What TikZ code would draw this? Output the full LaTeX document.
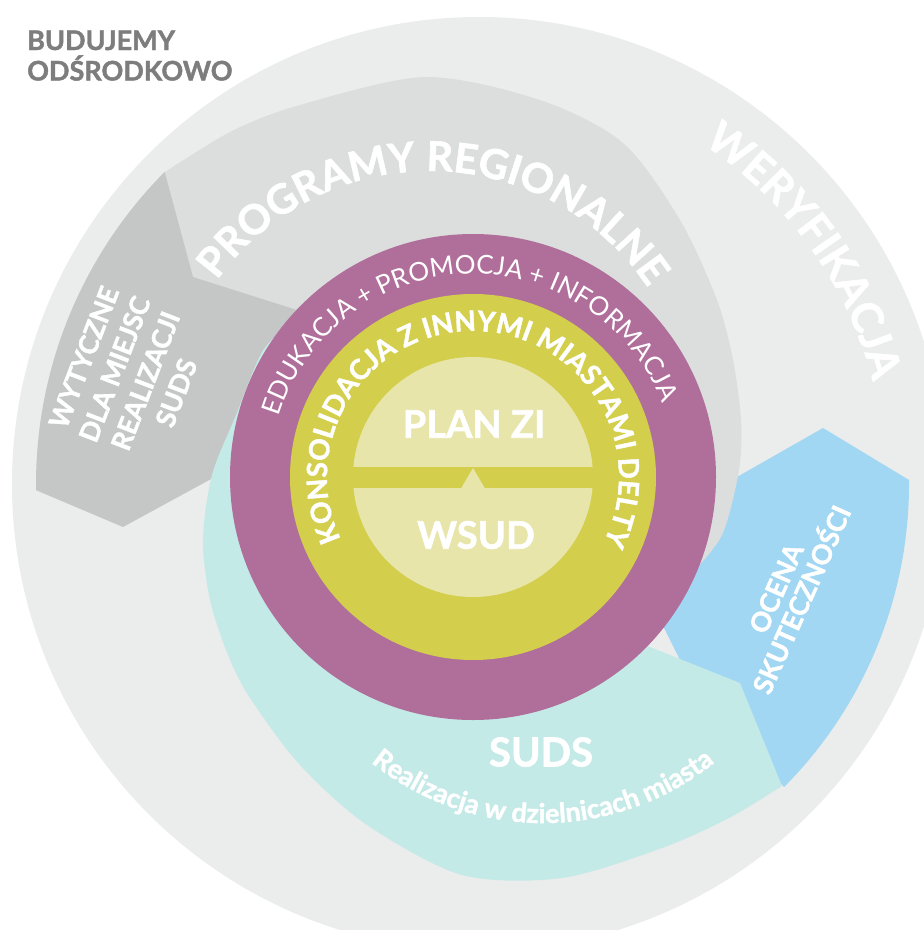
\documentclass[tikz,border=0pt]{standalone}
\usepackage{fontspec}
\setmainfont{Lato}[BoldFeatures={FakeBold=1.5}]
\usetikzlibrary{calc,decorations.text}
\definecolor{lgray}{HTML}{EBECEC}
\definecolor{dgray}{HTML}{DCDDDD}
\definecolor{mgray}{HTML}{C5C6C6}
\definecolor{cyanb}{HTML}{C4EAE7}
\definecolor{blueb}{HTML}{A1D7F3}
\definecolor{purp}{HTML}{B06E9B}
\definecolor{yell}{HTML}{D3CF4D}
\definecolor{pale}{HTML}{E8E5AA}
\definecolor{tgray}{HTML}{7D7D7D}
\tikzset{
  bigtxt/.style={font=\bfseries\fontsize{38}{38}\selectfont, text=white},
  sidetxt/.style={align=center, text=white},
}
\begin{document}
\begin{tikzpicture}[x=1pt,y=1pt]
\useasboundingbox (0,0) rectangle (924,-930);
\fill[white] (0,0) rectangle (924,-930);
\coordinate (O1) at (479,-484);
\coordinate (C) at (473,-477);
\coordinate (PRC) at (430,-433);
\coordinate (RC) at (543,-549);
\begin{scope}
\clip (0,0) rectangle (924,-930);
% outer light gray
\fill[lgray] (O1) circle[radius=467];
% blue
\fill[blueb] (823,-428) -- (909,-480) arc[start angle=0.53, end angle=-44.8, radius=430] -- (700,-700) -- (600,-500) -- (737,-477) -- cycle;
% darker gray (programy regionalne)
\fill[dgray] plot[smooth] coordinates {(690,-575) (722,-535) (739,-470) (741,-420) (733,-360) (717,-300) (680,-220) (623,-143) (540,-100) (425,-77) (300,-105) (232,-131) (165,-172)} -- (140,-230) -- (230,-330) -- (473,-477) -- cycle;
% medium gray (wytyczne)
\fill[mgray] ($(O1)+(135.2:443)$) arc[start angle=135.2, end angle=180.8, radius=443] -- (123,-527) -- (235,-466) -- (300,-420) -- (300,-311) -- (193,-277) -- cycle;
% cyan (suds)
\fill[cyanb] plot[smooth] coordinates {(288,-326) (262,-352) (236,-415) (212,-475) (203,-540) (210,-600) (228,-655) (250,-698) (300,-765) (367,-825) (462,-875) (562,-878) (662,-848) (729,-818) (782,-786)} -- (740,-683) -- (620,-635) -- (473,-477) -- cycle;
\end{scope}
% central circles
\fill[purp] (C) circle[radius=243];
\fill[yell] (C) circle[radius=183];
\fill[pale] (C) circle[radius=120];
\fill[yell] (340,-467) rectangle (606,-488);
\fill[pale] (461,-488.5) -- (473,-468) -- (485,-488.5) -- cycle;
% title
\node[anchor=base west, inner sep=0, font=\bfseries\fontsize{27}{30}\selectfont, text=tgray] (t1) at (27,-50) {BUDUJEMY};
\node[anchor=base west, inner sep=0, font=\bfseries\fontsize{27}{30}\selectfont, text=tgray] (t2) at (27,-80.5) {ODŚRODKOWO};
% curved texts
\path[decorate, decoration={text along path, text align=center, text={|\bfseries\fontsize{41}{41}\selectfont\color{white}|PROGRAMY REGIONALNE}}] ($(PRC)+(160:262)$) arc[start angle=160, end angle=18, radius=262];
\path[decorate, decoration={text along path, text align=center, text={|\bfseries\fontsize{43}{43}\selectfont\color{white}|WERYFIKACJA}}] ($(O1)+(85.6:407)$) arc[start angle=85.6, end angle=-14.4, radius=407];
\path[decorate, decoration={text along path, text align=center, text={|\fontsize{26}{26}\selectfont\color{white}|EDUKACJA + PROMOCJA + INFORMACJA}}] ($(C)+(172:203)$) arc[start angle=172, end angle=12, radius=203];
\path[decorate, decoration={text along path, text align=center, text={|\bfseries\fontsize{28}{28}\selectfont\color{white}|KONSOLIDACJA Z INNYMI MIASTAMI DELTY}}] ($(C)+(210:146)$) arc[start angle=210, end angle=-31.5, radius=146];
\path[decorate, decoration={text along path, text align=center, text={|\bfseries\fontsize{27}{27}\selectfont\color{white}|Realizacja w dzielnicach miasta}}] ($(RC)+(200:274)$) arc[start angle=200, end angle=340, radius=274];
% straight texts
\node[bigtxt] (plan) at (474,-424) {PLAN ZI};
\node[bigtxt] (wsud) at (476,-535) {WSUD};
\node[bigtxt, font=\bfseries\fontsize{40}{40}\selectfont] (suds) at (541,-752) {SUDS};
\node[sidetxt, rotate=69, font=\bfseries\fontsize{27}{33}\selectfont] (wyt) at (130,-375) {WYTYCZNE\\DLA MIEJSC\\REALIZACJI\\SUDS};
\node[sidetxt, rotate=66, font=\bfseries\fontsize{27}{28}\selectfont] (ocena) at (789,-594) {OCENA\\SKUTECZNOŚCI};
\end{tikzpicture}
\end{document}
